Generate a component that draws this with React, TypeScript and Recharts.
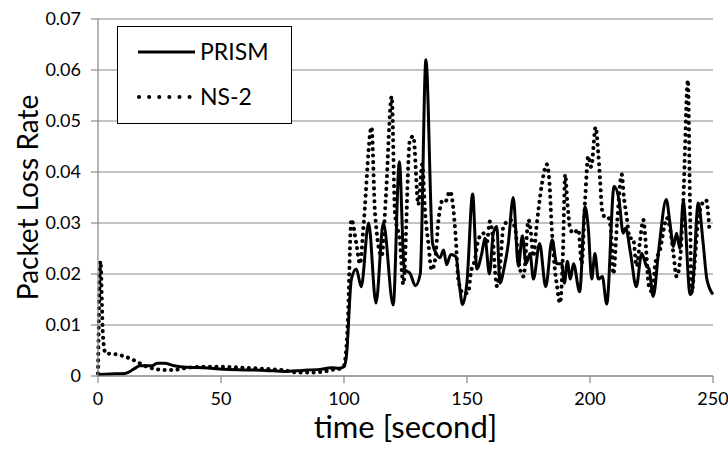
import React from "react";
import { LineChart, Line, XAxis, YAxis, CartesianGrid, Legend } from "recharts";

// time [second] and packet loss rate, PRISM
const prismTime = [
  0, 5, 11, 15, 17, 22, 24, 27, 31, 36, 43, 51, 60, 68, 76, 83, 90, 95, 98, 100,
  101, 103, 105, 107, 110, 113, 116, 120, 122.5, 124.5, 127, 129, 131, 133.3, 136,
  137.5, 139, 140.5, 141.7, 143.4, 145.5, 147, 148.2, 150, 152.3, 154, 156, 157.3,
  159.1, 160.7, 162.1, 163.4, 165, 166.8, 168.8, 170.9, 172.5, 174, 175.6, 177,
  179.5, 182, 184.6, 186.5, 188.5, 189.6, 190.8, 192, 193.3, 195.8, 198, 199.3,
  200.7, 202, 203.4, 205, 206.8, 209.8, 211.8, 213.5, 214.5, 216.5, 218.8, 221,
  223, 224, 225.7, 228, 231, 232.5, 233.9, 235.2, 236.5, 237.9, 240.7, 241.5, 244,
  246, 247.5, 250,
];
const prismLoss = [
  0.0003, 0.0004, 0.0005, 0.0015, 0.002, 0.002, 0.0025, 0.0025, 0.002, 0.0017,
  0.0016, 0.0013, 0.0012, 0.0011, 0.0009, 0.0011, 0.0013, 0.0016, 0.0015, 0.0018,
  0.004, 0.019, 0.021, 0.0175, 0.03, 0.0143, 0.03, 0.0139, 0.042, 0.021, 0.02,
  0.0177, 0.02, 0.062, 0.026, 0.024, 0.0232, 0.0247, 0.0218, 0.0238, 0.0234,
  0.0175, 0.014, 0.0185, 0.0357, 0.021, 0.024, 0.027, 0.02, 0.028, 0.0293, 0.0182,
  0.021, 0.026, 0.035, 0.0215, 0.0275, 0.022, 0.024, 0.019, 0.026, 0.0175, 0.0267,
  0.022, 0.022, 0.0182, 0.0225, 0.019, 0.022, 0.0165, 0.0332, 0.029, 0.019, 0.024,
  0.019, 0.0195, 0.0141, 0.0372, 0.0345, 0.028, 0.029, 0.024, 0.0175, 0.024,
  0.0215, 0.021, 0.0156, 0.025, 0.0346, 0.03, 0.0254, 0.028, 0.025, 0.0343, 0.016,
  0.0165, 0.0339, 0.026, 0.019, 0.016,
];

// time [second] and packet loss rate, NS-2
const ns2Time = [
  0, 1, 2, 3, 8, 11, 15, 19, 23, 27, 31, 36, 43, 50, 60, 68, 76, 81, 87, 92, 95, 99,
  100, 101.5, 103, 105, 106.5, 108, 111.2, 112.6, 115.3, 117, 119.4, 120.7, 122.8,
  124.1, 126.8, 128.2, 130.2, 131.8, 133, 134.3, 135.6, 136.9, 138.5, 139.8, 141,
  143.1, 145.3, 146.5, 148.5, 150.5, 151.5, 153.2, 154.6, 156.6, 158, 159.3, 160.5,
  161.5, 162.2, 163.5, 164.8, 167.5, 169.5, 171.3, 173, 175, 176, 177, 178.2, 180.4,
  182.4, 183.5, 184.4, 185.5, 186.6, 187.8, 189, 189.9, 190.8, 191.9, 193.2, 195.3,
  196.6, 198, 199.3, 200.5, 202.3, 203.3, 204.1, 204.9, 206.3, 207.5, 208.8, 209.5,
  211, 212.9, 213.8, 214.9, 216.2, 217.5, 219, 220.2, 221.7, 222.8, 223.8, 225.3,
  226.5, 228.5, 230.5, 231.2, 232.5, 233.9, 235.2, 236.6, 237.9, 239.8, 240.6,
  241.3, 242.5, 244, 245.4, 247.2, 248.5,
];
const ns2Loss = [
  0.0005, 0.0225, 0.008, 0.0045, 0.0042, 0.0038, 0.003, 0.002, 0.0014, 0.0012,
  0.0012, 0.0016, 0.0018, 0.0018, 0.0016, 0.0014, 0.0011, 0.0007, 0.0007, 0.0009,
  0.0012, 0.0015, 0.002, 0.01, 0.0307, 0.026, 0.022, 0.03, 0.0488, 0.032, 0.0235,
  0.035, 0.0548, 0.032, 0.026, 0.018, 0.0463, 0.047, 0.0336, 0.0415, 0.032, 0.026,
  0.0208, 0.0224, 0.031, 0.0342, 0.034, 0.0362, 0.028, 0.0188, 0.0162, 0.0163, 0.02,
  0.0228, 0.0267, 0.028, 0.026, 0.0303, 0.027, 0.02, 0.0176, 0.022, 0.0293, 0.0306,
  0.029, 0.0215, 0.0195, 0.0306, 0.028, 0.0234, 0.029, 0.0375, 0.0415, 0.038,
  0.0295, 0.022, 0.0176, 0.0143, 0.024, 0.0395, 0.034, 0.029, 0.028, 0.0287, 0.022,
  0.0345, 0.0431, 0.041, 0.0488, 0.044, 0.0385, 0.0326, 0.031, 0.031, 0.0267, 0.02,
  0.03, 0.0395, 0.035, 0.0313, 0.027, 0.027, 0.0215, 0.026, 0.0306, 0.025, 0.018,
  0.0165, 0.022, 0.0248, 0.03, 0.031, 0.029, 0.0241, 0.0195, 0.0227, 0.034, 0.058,
  0.035, 0.0163, 0.022, 0.0306, 0.0336, 0.0345, 0.029,
];

const xTicks = [0, 50, 100, 150, 200, 250];
const yTicks = [0, 0.01, 0.02, 0.03, 0.04, 0.05, 0.06, 0.07];
const seriesNames = ["PRISM", "NS-2"];

const prismData = prismTime.map((t, i) => ({ t, v: prismLoss[i] }));
const ns2Data = ns2Time.map((t, i) => ({ t, v: ns2Loss[i] }));

const FONT = "Lato, 'Open Sans', sans-serif";
const GRAY = "#888888";

const LegendBox = () => (
  <div
    style={{
      width: 175,
      height: 98,
      boxSizing: "border-box",
      border: "1px solid #000",
      background: "#fff",
    }}
  >
    <svg width={173} height={96} style={{ display: "block" }}>
      <line x1={20} y1={25} x2={77} y2={25} stroke="#000" strokeWidth={3} />
      <text x={82} y={25} dy="0.36em" fontSize={23} fontFamily={FONT} fill="#000">
        {seriesNames[0]}
      </text>
      <line
        x1={21}
        y1={70}
        x2={77}
        y2={70}
        stroke="#000"
        strokeWidth={4}
        strokeDasharray="0.1 10"
        strokeLinecap="round"
      />
      <text x={82} y={70} dy="0.36em" fontSize={23} fontFamily={FONT} fill="#000">
        {seriesNames[1]}
      </text>
    </svg>
  </div>
);

export default function App() {
  return (
    <div style={{ position: "absolute", left: 0, top: 0, width: 728, height: 454, background: "#fff" }}>
      <LineChart
        width={728}
        height={454}
        margin={{ top: 19, right: 15, left: 0, bottom: 0 }}
        style={{ fontFamily: FONT }}
      >
        <CartesianGrid vertical={false} stroke={GRAY} strokeWidth={1.2} />
        <XAxis
          dataKey="t"
          type="number"
          domain={[0, 250]}
          ticks={xTicks}
          height={78}
          axisLine={{ stroke: GRAY, strokeWidth: 1.2 }}
          tickLine={{ stroke: GRAY, strokeWidth: 1.2 }}
          tickSize={7}
          tickMargin={9}
          tick={{ fill: "#000", fontSize: 18, fontFamily: FONT }}
          allowDuplicatedCategory={false}
          label={{
            value: "time [second]",
            position: "insideBottom",
            offset: 16,
            style: { fontSize: 31, fontFamily: FONT, fill: "#000", textAnchor: "middle" },
          }}
        />
        <YAxis
          type="number"
          domain={[0, 0.07]}
          ticks={yTicks}
          width={98}
          axisLine={{ stroke: GRAY, strokeWidth: 1.2 }}
          tickLine={{ stroke: GRAY, strokeWidth: 1.2 }}
          tickSize={7}
          tickMargin={10}
          tick={{ fill: "#000", fontSize: 18, fontFamily: FONT }}
          tickFormatter={(v: number) => (v === 0 ? "0" : v.toFixed(2))}
          label={{
            value: "Packet Loss Rate",
            angle: -90,
            position: "insideLeft",
            offset: 28,
            style: { fontSize: 28, fontFamily: FONT, fill: "#000", textAnchor: "middle" },
          }}
        />
        <Legend
          layout="horizontal"
          verticalAlign="middle"
          align="center"
          wrapperStyle={{ left: 117, top: 26, width: 175, height: 98 }}
          content={() => <LegendBox />}
        />
        <Line
          data={ns2Data}
          dataKey="v"
          name={seriesNames[1]}
          type="monotone"
          stroke="#000"
          strokeWidth={4}
          strokeDasharray="0.1 6.4"
          strokeLinecap="round"
          dot={false}
          activeDot={false}
          isAnimationActive={false}
        />
        <Line
          data={prismData}
          dataKey="v"
          name={seriesNames[0]}
          type="monotone"
          stroke="#000"
          strokeWidth={3}
          dot={false}
          activeDot={false}
          isAnimationActive={false}
        />
      </LineChart>
    </div>
  );
}
